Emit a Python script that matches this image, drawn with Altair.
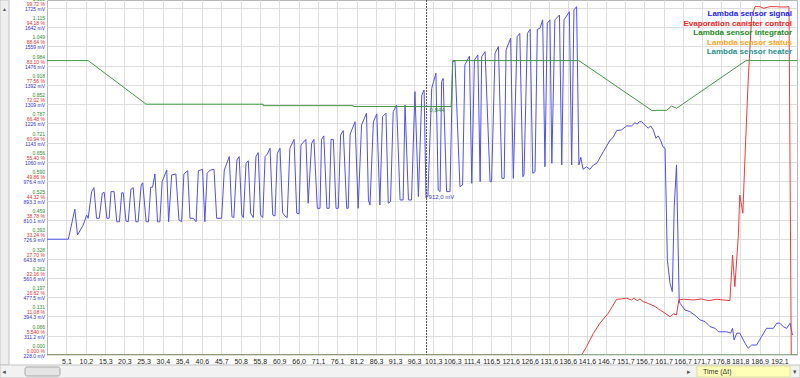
import altair as alt
import pandas as pd

# ---------------- data ----------------
SERIES = ["Lambda sensor signal", "Evaporation canister control",
          "Lambda sensor integrator", "Lambda sensor status", "Lambda sensor heater"]

blue_t = [0, 5.6, 7.3, 8.0, 9.5, 10.4, 10.8, 11.7, 12.3, 13.0, 13.7, 14.5, 15.0, 15.7, 16.3,
          16.8, 17.6, 18.3, 19.0, 19.6, 20.0, 20.7, 21.3, 22.0, 22.6, 23.3, 23.9, 24.7, 25.1,
          26.0, 26.6, 27.2, 27.7, 28.3, 29.0, 29.6, 30.2, 31.4, 31.9, 32.7, 33.8, 34.6, 35.3,
          35.9, 36.9, 37.5, 38.4, 39.1, 39.7, 40.8, 41.4, 42.0, 42.8, 43.8, 44.5, 45.8, 46.5,
          47.8, 48.5, 49.0, 49.8, 50.4, 51.1, 51.5, 52.2, 52.8, 53.4, 54.1, 54.8, 55.4, 56.0,
          56.6, 57.2, 57.8, 58.5, 59.2, 59.8, 60.4, 61.1, 61.8, 62.4, 63.0, 63.7, 64.8, 65.5,
          66.1, 66.6, 67.9, 68.5, 69.4, 70.0, 70.9, 71.6, 72.0, 72.6, 73.4, 74.0, 74.5, 75.1,
          75.8, 76.4, 77.0, 77.7, 78.6, 79.0, 79.5, 80.8, 81.6, 82.5, 83.8, 84.3, 84.7, 85.6,
          86.5, 87.3, 88.0, 88.9, 89.5, 90.1, 90.8, 91.7, 92.6, 93.4, 93.9, 94.8, 95.6, 96.5,
          97.4, 98.3, 98.9, 99.4, 99.9, 100.9, 102.0, 102.6, 103.1, 103.5, 103.9, 104.8, 105.7,
          106.4, 107.0, 108.3, 109.0, 109.6, 110.8, 111.4, 112.1, 113.0, 113.6, 114.0, 114.9,
          116.2, 116.6, 117.5, 118.4, 119.3, 119.9, 120.4, 121.6, 122.3, 123.3, 124.0, 124.8,
          125.1, 126.0, 126.7, 127.4, 128.0, 128.6, 129.3, 130.0, 130.6, 131.2, 131.9, 132.4,
          133.2, 134.4, 135.0, 135.6, 137.0, 137.6, 138.2, 138.9, 139.5, 140.0, 140.6, 141.5,
          142.4, 143.3, 144.2, 145.9, 147.7, 148.5, 149.4, 150.7, 152.0, 153.3, 154.2, 154.8,
          155.3, 156.0, 156.8, 157.7, 158.3, 159.0, 159.7, 160.3, 160.9, 161.5, 162.1, 162.7,
          163.4, 164.0, 164.5, 165.1, 165.8, 166.0, 167.3, 168.6, 169.9, 171.3, 172.6, 173.9,
          175.2, 176.1, 178.3, 179.3, 179.8, 180.2, 180.9, 181.7, 183.1, 183.9, 184.8, 186.1,
          187.4, 188.7, 190.5, 191.4, 192.2, 193.1, 194.0, 194.9, 195.5]
blue_mv = [727, 727, 856, 745, 788, 831, 817, 932, 949, 817, 817, 925, 929, 817, 817,
           932, 932, 802, 802, 927, 927, 805, 802, 942, 949, 802, 802, 961, 970,
           802, 802, 951, 951, 1008, 802, 802, 975, 1025, 802, 1004, 1008, 810, 802,
           1008, 1022, 817, 817, 802, 1022, 1028, 802, 1011, 1025, 1028, 817, 817, 1025,
           1083, 824, 820, 1068, 1083, 831, 820, 1054, 1065, 839, 820, 1083, 1100, 831,
           820, 1083, 1094, 1119, 831, 827, 1097, 1119, 841, 827, 820, 1119, 1157, 839,
           836, 1133, 1157, 882, 1140, 1157, 860, 860, 1157, 1172, 860, 860, 1157, 1157,
           860, 860, 1176, 1195, 860, 860, 1180, 1233, 860, 1219, 1270, 896, 874, 1233,
           1267, 874, 1255, 1270, 882, 889, 1276, 1305, 896, 896, 1305, 896, 896, 1363,
           910, 1348, 1370, 905, 912, 1377, 1442, 939, 932, 1406, 1420, 932, 932,
           1492, 1496, 953, 961, 1478, 1516, 968, 1499, 1521, 975, 1513, 1535,
           975, 975, 1528, 1557, 989, 989, 1542, 1593, 989, 1600, 1614, 996,
           1004, 1614, 1631, 1011, 1018, 1631, 1636, 1672, 1039, 1657, 1672, 1054,
           1672, 1693, 1047, 1672, 1707, 1047, 1715, 1729, 1047, 1080, 1028, 1039,
           1028, 1047, 1054, 1104, 1154, 1166, 1195, 1198, 1215, 1215, 1229, 1223,
           1233, 1233, 1219, 1205, 1215, 1198, 1162, 1172, 1154, 1126, 1119, 637,
           537, 501, 867, 1047, 465, 451, 422, 415, 400, 379, 372, 350,
           343, 328, 328, 322, 343, 293, 322, 322, 278, 257, 271, 271,
           307, 343, 343, 365, 365, 350, 343, 365, 314]

red_t = [0, 140.2, 141.5, 143.3, 145.0, 147.2, 149.4, 150.7, 152.0, 153.3, 153.9, 154.8, 155.5,
         156.4, 157.7, 159.5, 160.8, 162.1, 163.4, 164.3, 165.1, 165.7, 166.9, 169.5, 171.7,
         173.4, 175.6, 177.4, 179.1, 179.8, 180.4, 181.3, 181.7, 182.5, 183.1, 183.9, 184.8,
         185.7, 187.0, 187.9, 189.6, 191.4, 192.2, 193.8, 194.6, 195.2, 196.7]
red_pct = [0, 0, 2.4, 6.2, 9.1, 12.0, 16.0, 16.1, 16.3, 15.8, 16.3, 15.6, 16.1,
           15.3, 14.8, 13.9, 12.9, 12.0, 11.0, 11.8, 11.5, 15.8, 16.0, 15.8, 16.1,
           15.6, 16.0, 15.8, 15.6, 28.7, 19.6, 34.0, 45.9, 40.7, 57.9, 78.9, 97.1,
           100.0, 100.0, 99.5, 100.0, 100.0, 99.9, 99.9, 100.0, 0, 0]

green_t = [0, 10.8, 26.0, 56.7, 56.7, 80.3, 80.3, 106.0, 106.4, 139.5, 158.6, 162.5,
           163.8, 165.1, 183.3, 196.7]
green_val = [1.0, 1.0, 0.852, 0.852, 0.847, 0.847, 0.844, 0.844, 1.0, 1.0, 0.831, 0.831,
             0.846, 0.838, 1.0, 1.0]

status_t = [0, 196.7]
status_val = [0, 0]
heater_t = [0, 196.7]
heater_val = [0, 0]

x_ticks = [5.1, 10.2, 15.3, 20.3, 25.3, 30.4, 35.4, 40.6, 45.7, 50.8, 55.8, 60.9, 66.0, 71.1,
           76.1, 81.2, 86.3, 91.3, 96.3, 101.3, 106.3, 111.4, 116.5, 121.6, 126.6, 131.6,
           136.6, 141.6, 146.7, 151.7, 156.7, 161.7, 166.7, 171.7, 176.8, 181.8, 186.9, 192.1]

y_int_labels = ["0.000", "0.066", "0.131", "0.197", "0.262", "0.328", "0.393", "0.459",
                "0.525", "0.590", "0.656", "0.721", "0.787", "0.852", "0.918", "0.984",
                "1.049", "1.115", "1.180"]
y_pct_labels = ["0.000 %", "5.540 %", "11.08 %", "16.62 %", "22.16 %", "27.70 %", "33.24 %",
                "38.78 %", "44.32 %", "49.86 %", "55.40 %", "60.94 %", "66.48 %", "72.02 %",
                "77.56 %", "83.10 %", "88.64 %", "94.18 %", "99.72 %"]
y_mv_labels = ["228.0 mV", "311.2 mV", "394.3 mV", "477.5 mV", "560.6 mV", "643.8 mV",
               "726.9 mV", "810.1 mV", "893.3 mV", "976.4 mV", "1060 mV", "1143 mV",
               "1226 mV", "1309 mV", "1392 mV", "1476 mV", "1559 mV", "1642 mV", "1725 mV"]

cursor_t = 99.55
cursor_mv = 912.0
cursor_int = 0.844

# grid: one division per step of each unit
MV0, MV_STEP = 228.0, 83.16
PCT_STEP = 5.54
INT_STEP = 0.06556

# ---------------- styles ----------------
LINE_COLORS = ["#5050ea", "#f03a3a", "#3f9a3f", "#f0a020", "#2a9090"]
LEGEND_COLORS = ["#1a1aff", "#ff1a1a", "#1a8a1a", "#ffa51a", "#2a8f8f"]
FONT = "Liberation Sans"
T_MAX = 196.7
G_MAX = 18.394

# ---------------- tables ----------------
def series_df(name, ts, vals, conv):
    return pd.DataFrame({"t": ts, "g": [conv(v) for v in vals],
                         "series": name, "i": range(len(ts))})

dfs = [
    series_df(SERIES[0], blue_t, blue_mv, lambda v: (v - MV0) / MV_STEP),
    series_df(SERIES[1], red_t, red_pct, lambda v: v / PCT_STEP),
    series_df(SERIES[2], green_t, green_val, lambda v: v / INT_STEP),
    series_df(SERIES[3], status_t, status_val, lambda v: v),
    series_df(SERIES[4], heater_t, heater_val, lambda v: v),
]

ticks_df = pd.DataFrame({"k": list(range(len(y_mv_labels))), "gl": y_int_labels,
                         "pl": y_pct_labels, "ml": y_mv_labels})

cursor_df = pd.DataFrame({
    "t": [cursor_t],
    "gmv": [(cursor_mv - MV0) / MV_STEP],
    "gint": [cursor_int / INT_STEP],
    "lmv": [f"{cursor_mv:.1f}".replace(".", ",") + " mV"],
    "lint": [f"{cursor_int:.3f}".replace(".", ",")],
})

legend_df = pd.DataFrame({"series": SERIES, "rank": list(range(len(SERIES)))})
one = pd.DataFrame({"a": [0]})

xscale = alt.Scale(domain=[0, T_MAX], nice=False, zero=False)
yscale = alt.Scale(domain=[0, G_MAX], nice=False, zero=False)
xaxis = alt.Axis(values=x_ticks, labelExpr="replace(format(datum.value, '.1f'), '.', ',')",
                 grid=True, gridColor="#dedede", domain=False, ticks=False, title=None,
                 labelFontSize=7, labelFont=FONT, labelColor="#222222", labelPadding=2,
                 labelFlush=False, labelOverlap=False)
yaxis = alt.Axis(values=list(range(19)), labels=False, ticks=False, domain=False,
                 grid=True, gridColor="#dedede", title=None)
X = alt.X("t:Q", scale=xscale, axis=xaxis)

line_color = alt.Color("series:N", scale=alt.Scale(domain=SERIES, range=LINE_COLORS), legend=None)

layers = []
for df in dfs:
    layers.append(
        alt.Chart(df).mark_line(strokeWidth=1, clip=True).encode(
            x=X, y=alt.Y("g:Q", scale=yscale, axis=yaxis), color=line_color,
            order=alt.Order("i:Q"))
    )

cursor_rule = alt.Chart(cursor_df).mark_rule(color="#505050", strokeDash=[2, 1], strokeWidth=1).encode(x=X)
cursor_mv_txt = alt.Chart(cursor_df).mark_text(align="left", baseline="middle", dx=2, dy=1,
                                               fontSize=6, font=FONT, color="#3a3acc").encode(
    x=X, y=alt.Y("gmv:Q", scale=yscale, axis=yaxis), text="lmv:N")
cursor_int_txt = alt.Chart(cursor_df).mark_text(align="left", baseline="top", dx=3, dy=0,
                                                fontSize=6, font=FONT, color="#2e8b2e").encode(
    x=X, y=alt.Y("gint:Q", scale=yscale, axis=yaxis), text="lint:N")

ybase = alt.Chart(ticks_df).encode(y=alt.Y("k:Q", scale=yscale, axis=yaxis), x=alt.value(-2))
lab_g = ybase.mark_text(align="right", baseline="middle", dy=-9, fontSize=5, font=FONT,
                        color="#2e8b2e").encode(text="gl:N")
lab_p = ybase.mark_text(align="right", baseline="middle", dy=-4, fontSize=5, font=FONT,
                        color="#e03030").encode(text="pl:N")
lab_m = ybase.mark_text(align="right", baseline="middle", dy=1, fontSize=5, font=FONT,
                        color="#3030d0").encode(text="ml:N")

main = alt.layer(*layers, cursor_rule, cursor_mv_txt, cursor_int_txt, lab_g, lab_p, lab_m)

legend = alt.Chart(legend_df).mark_text(align="right", baseline="middle", fontSize=8,
                                        fontWeight="bold", font=FONT).encode(
    x=alt.value(745),
    y=alt.Y("rank:Q", scale=alt.Scale(domain=[0, 4], range=[14, 52]), axis=None),
    text="series:N",
    color=alt.Color("series:N", scale=alt.Scale(domain=SERIES, range=LEGEND_COLORS), legend=None),
)

# window chrome (scroll bars, time selector)
vbar = alt.Chart(one).mark_rect(fill="#eeeeee", stroke="#c4c4c4", strokeWidth=1).encode(
    x=alt.value(-47), x2=alt.value(-38), y=alt.value(0), y2=alt.value(365))
vup = alt.Chart(one).mark_text(text="▲", fontSize=5, color="#555555").encode(
    x=alt.value(-42.5), y=alt.value(9))
hbar = alt.Chart(one).mark_rect(fill="#f2f2f2", stroke="#c4c4c4", strokeWidth=1).encode(
    x=alt.value(-47), x2=alt.value(753), y=alt.value(365), y2=alt.value(378))
hthumb = alt.Chart(one).mark_rect(fill="#e4e4e4", stroke="#a8a8a8", strokeWidth=1,
                                  cornerRadius=2).encode(
    x=alt.value(-22), x2=alt.value(13), y=alt.value(367), y2=alt.value(376))
hleft = alt.Chart(one).mark_text(text="◄", fontSize=6, color="#555555").encode(
    x=alt.value(-43), y=alt.value(372))
tbox = alt.Chart(one).mark_rect(fill="#ffffb8", stroke="#e0e0a0", strokeWidth=1).encode(
    x=alt.value(650), x2=alt.value(743), y=alt.value(366), y2=alt.value(377))
ttxt = alt.Chart(one).mark_text(text="Time (Δt)", fontSize=7, font=FONT, align="left",
                                color="#333333").encode(x=alt.value(656), y=alt.value(372))
tarrow = alt.Chart(one).mark_text(text="▸", fontSize=7, color="#555555").encode(
    x=alt.value(642), y=alt.value(372))
tdrop = alt.Chart(one).mark_text(text="▾", fontSize=7, color="#555555").encode(
    x=alt.value(748), y=alt.value(372))

chart = alt.layer(main, legend, vbar, vup, hbar, hthumb, hleft, tbox, ttxt, tarrow, tdrop).resolve_scale(
    y="independent", color="independent"
).properties(
    width=750, height=355,
    autosize=alt.AutoSizeParams(type="none"),
    padding={"left": 47, "top": 0, "right": 3, "bottom": 23},
    background="white",
).configure_view(stroke="#b8b8b8", strokeWidth=1)

chart.save("out.html", embed_options={"renderer": "svg", "actions": False})
